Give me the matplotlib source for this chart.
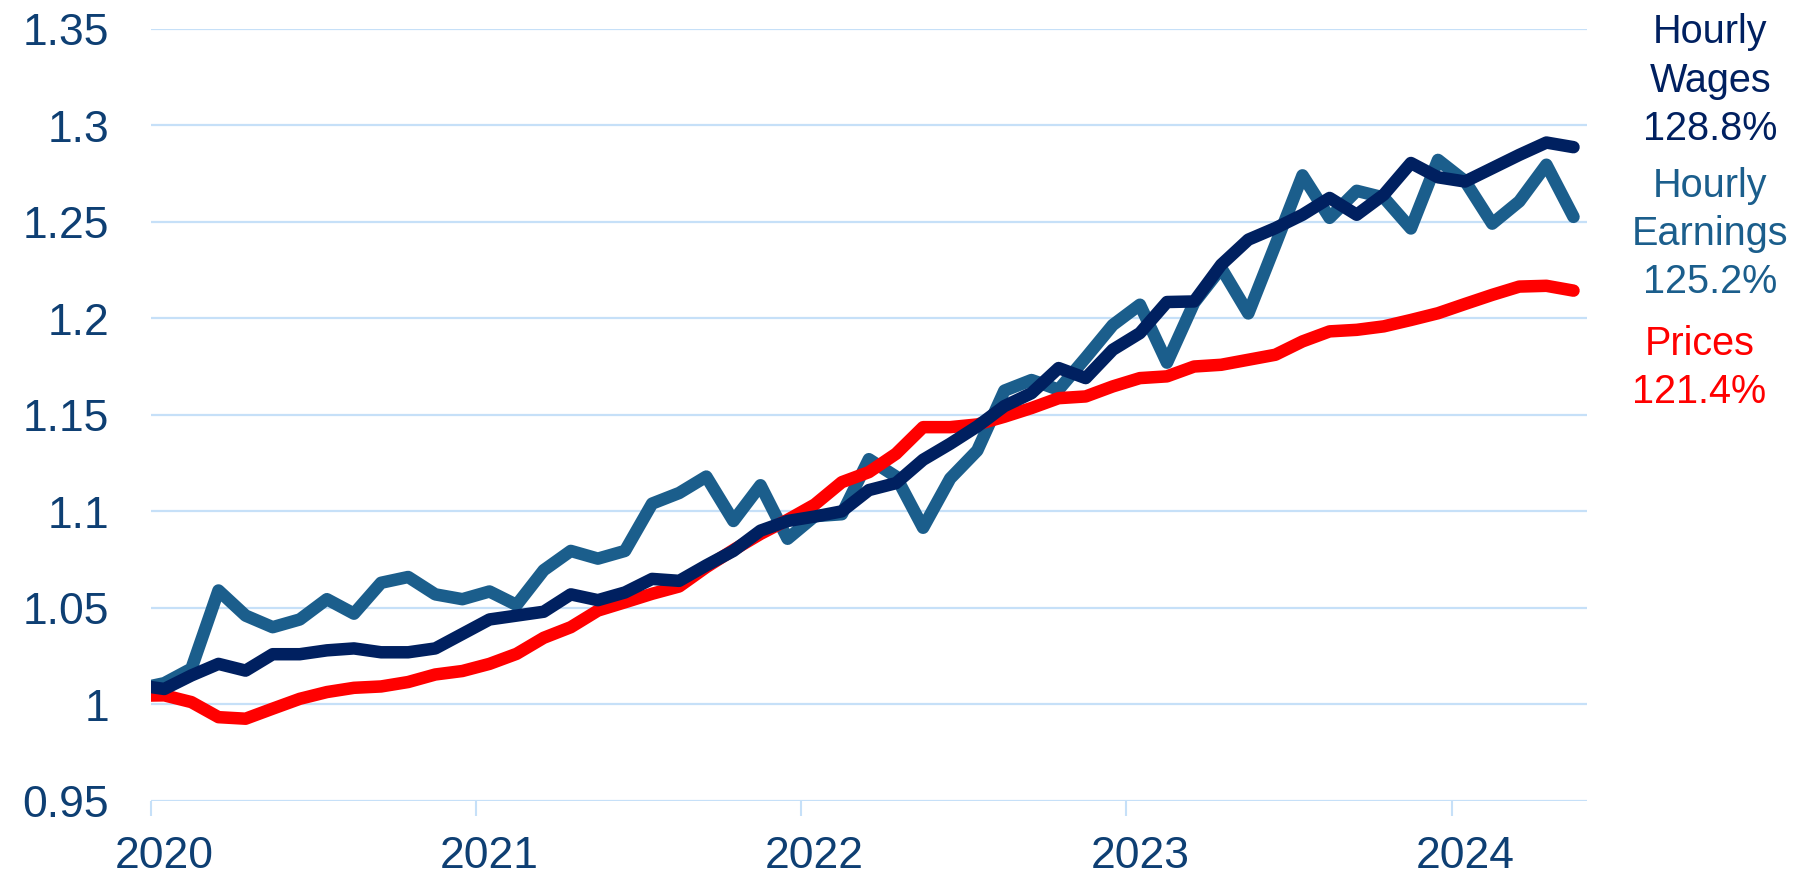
import numpy as np
import pandas as pd
import matplotlib
matplotlib.use("Agg")
import matplotlib.pyplot as plt
from matplotlib.ticker import FixedLocator, NullFormatter

# ---- data (index levels, Dec 2019 .. May 2024, monthly) ----
months = pd.date_range("2019-12-01", "2024-05-01", freq="MS")

hourly_earnings = [
    1.008, 1.011, 1.0185, 1.059, 1.046, 1.040, 1.044, 1.0545, 1.047, 1.063, 1.066, 1.057, 1.0545,
    1.0585, 1.0515, 1.0695, 1.0795, 1.0755, 1.0795, 1.104, 1.1095, 1.118, 1.095, 1.1135, 1.0858,
    1.0975, 1.0985, 1.127, 1.118, 1.0915, 1.117, 1.1315, 1.1625, 1.168, 1.163, 1.1795, 1.1965, 1.207,
    1.177, 1.208, 1.226, 1.2025, 1.238, 1.274, 1.252, 1.266, 1.2625, 1.2465, 1.282,
    1.271, 1.249, 1.2605, 1.2795, 1.2525,
]
hourly_wages = [
    1.010, 1.008, 1.015, 1.021, 1.0175, 1.026, 1.026, 1.028, 1.029, 1.027, 1.027, 1.029, 1.0365,
    1.044, 1.046, 1.048, 1.057, 1.054, 1.058, 1.065, 1.064, 1.072, 1.0795, 1.090, 1.095,
    1.0973, 1.100, 1.111, 1.1146, 1.1267, 1.135, 1.144, 1.1545, 1.1612, 1.1742, 1.169, 1.1837, 1.1923,
    1.2084, 1.2087, 1.2277, 1.2407, 1.2467, 1.2536, 1.2623, 1.2536, 1.264, 1.2804, 1.273,
    1.2708, 1.2777, 1.2846, 1.291, 1.2886,
]
prices = [
    1.0045, 1.0047, 1.0012, 0.9934, 0.9926, 0.9978, 1.0029, 1.0064, 1.0086, 1.0093, 1.0116, 1.0155, 1.0173,
    1.021, 1.0262, 1.0345, 1.040, 1.0486, 1.0529, 1.0573, 1.0611, 1.0711, 1.080, 1.0883, 1.0956,
    1.1035, 1.1151, 1.1203, 1.1298, 1.1436, 1.1436, 1.145, 1.149, 1.1535, 1.1586, 1.1595, 1.1647, 1.169,
    1.1699, 1.175, 1.1759, 1.1785, 1.1811, 1.188, 1.1932, 1.194, 1.1958, 1.1991, 1.2026,
    1.2074, 1.2121, 1.2164, 1.2168, 1.2143,
]
y_ticks = [0.95, 1.0, 1.05, 1.1, 1.15, 1.2, 1.25, 1.3, 1.35]
y_tick_labels = ["0.95", "1", "1.05", "1.1", "1.15", "1.2", "1.25", "1.3", "1.35"]
wages_label = ["Hourly", "Wages", "128.8%"]
earnings_label = ["Hourly", "Earnings", "125.2%"]
prices_label = ["Prices", "121.4%"]

# ---- style ----
NAVY = "#002060"
EARN = "#1B5E8C"
RED = "#FF0000"
GRID = "#C6E0F8"
TXT = "#0E3F73"
plt.rcParams["font.family"] = ["Liberation Sans", "DejaVu Sans"]

W, H = 1807, 879
fig = plt.figure(figsize=(W / 100 + 0.004, H / 100 + 0.004), dpi=100)
ax = fig.add_axes([150.7 / W, 1 - 801 / H, (1586.7 - 150.7) / W, (801 - 29) / H])

# x positions: month index with Jan 2020 = 0
x = np.arange(len(months)) - 1

lw = 9.0
ax.plot(x, hourly_earnings, color=EARN, lw=lw, solid_joinstyle="round",
        solid_capstyle="round", zorder=3)
ax.plot(x, prices, color=RED, lw=lw, solid_joinstyle="round",
        solid_capstyle="round", zorder=4)
ax.plot(x, hourly_wages, color=NAVY, lw=lw, solid_joinstyle="round",
        solid_capstyle="round", zorder=5)

ax.set_xlim(-0.5, 52.5)
ax.set_ylim(0.95, 1.35)

for s in ax.spines.values():
    s.set_visible(False)

ax.set_yticks(y_ticks)
ax.set_yticklabels(y_tick_labels)
ax.yaxis.grid(True, color=GRID, lw=1.6, zorder=0)
ax.set_axisbelow(True)
ax.tick_params(axis="y", length=0, pad=30, labelsize=32, labelcolor=TXT)

jan_idx = [i - 1 for i, d in enumerate(months) if d.month == 1]
ax.set_xticks(jan_idx)
ax.set_xticklabels([str(months[i + 1].year) for i in jan_idx])
ax.xaxis.set_minor_locator(FixedLocator([j - 0.5 for j in jan_idx]))
ax.xaxis.set_minor_formatter(NullFormatter())
ax.tick_params(axis="x", which="major", length=0, pad=25, labelsize=32, labelcolor=TXT)
ax.tick_params(axis="x", which="minor", length=11, width=1.5, color=GRID, direction="out")

# series labels on the right (one text per line, baselines in pixels from top)
fs = 28.5
def put_lines(lines, cx, baselines, color):
    for s, b in zip(lines, baselines):
        fig.text(cx / W, 1 - b / H, s, color=color, fontsize=fs,
                 ha="center", va="baseline")

put_lines(wages_label, 1710, [43, 91.5, 140], NAVY)
put_lines(earnings_label, 1710, [197, 245, 293], EARN)
put_lines(prices_label, 1699, [355, 403], RED)

fig.savefig("out.png", dpi=100)
